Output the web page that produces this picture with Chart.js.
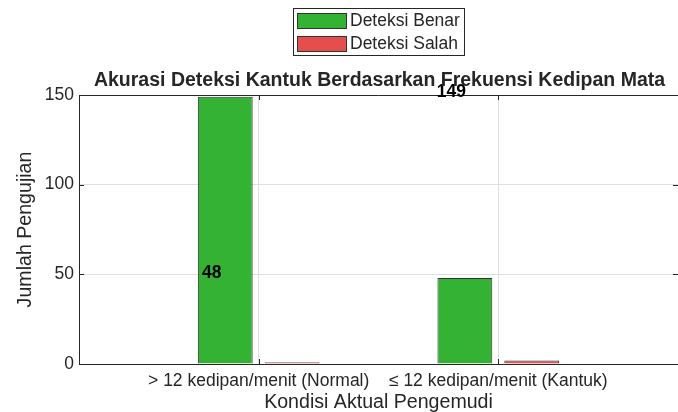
<!DOCTYPE html>
<html><head><meta charset="utf-8">
<script src="https://cdn.jsdelivr.net/npm/chart.js@4"></script>
<style>html,body{margin:0;padding:0;background:#fff}#wrap{width:678px;height:412px}</style>
</head><body><div id="wrap"><canvas id="c" width="678" height="412"></canvas></div>
<script>
const categories = ['> 12 kedipan/menit (Normal)', '\u2264 12 kedipan/menit (Kantuk)'];
const seriesNames = ['Deteksi Benar', 'Deteksi Salah'];
const benarValues = [149, 48];
const salahValues = [1, 2];
const yTickValues = [0, 50, 100, 150];
// value labels as printed in the picture (they appear swapped between groups)
const labelTexts = [48, 149];
const chartTitle = 'Akurasi Deteksi Kantuk Berdasarkan Frekuensi Kedipan Mata';
const xTitle = 'Kondisi Aktual Pengemudi';
const yTitle = 'Jumlah Pengujian';

const FONT = '"Liberation Sans", Arial, Helvetica, sans-serif';
const DARK = '#262626';
const GREEN = 'rgb(51,178,51)';
const RED = 'rgb(230,77,77)';
Chart.defaults.font.family = FONT;

const labelOffsetX = -0.196, labelOffsetY = 2.7;

const matlabPlugin = {
  id: 'matlab',
  afterDatasetsDraw(chart) {
    const {ctx, chartArea: a, scales: {x, y}} = chart;
    ctx.save();
    ctx.strokeStyle = DARK; ctx.lineWidth = 1;
    // top box line
    ctx.beginPath(); ctx.moveTo(a.left, a.top + 0.5); ctx.lineTo(a.right, a.top + 0.5); ctx.stroke();
    // inward ticks
    const tl = 5;
    [1, 2].forEach(v => {
      const px = Math.round(x.getPixelForValue(v)) + 0.5;
      ctx.beginPath(); ctx.moveTo(px, a.bottom); ctx.lineTo(px, a.bottom - tl);
      ctx.moveTo(px, a.top); ctx.lineTo(px, a.top + tl); ctx.stroke();
    });
    yTickValues.forEach(v => {
      const py = Math.round(y.getPixelForValue(v)) + 0.5;
      ctx.beginPath(); ctx.moveTo(a.left, py); ctx.lineTo(a.left + tl, py);
      ctx.moveTo(a.right, py); ctx.lineTo(a.right - tl, py); ctx.stroke();
    });
    // value labels
    ctx.fillStyle = '#000';
    ctx.font = 'bold 17.5px ' + FONT;
    ctx.textAlign = 'center'; ctx.textBaseline = 'middle';
    labelTexts.forEach((t, i) => {
      ctx.fillText(String(t), x.getPixelForValue(i + 1 + labelOffsetX), y.getPixelForValue(t + labelOffsetY));
    });
    // title
    ctx.fillStyle = DARK;
    ctx.font = 'bold 19.5px ' + FONT;
    ctx.fillText(chartTitle, (a.left + a.right) / 2 + 1, 81);
    // legend
    ctx.fillStyle = '#fff';
    ctx.fillRect(293.5, 8.5, 171, 47);
    ctx.strokeStyle = DARK;
    ctx.strokeRect(293.5, 8.5, 171, 47);
    const cols = [GREEN, RED];
    seriesNames.forEach((n, i) => {
      const ry = 13.5 + i * 23;
      ctx.fillStyle = cols[i];
      ctx.fillRect(297.5, ry, 49, 15);
      ctx.strokeStyle = '#333';
      ctx.strokeRect(297.5, ry, 49, 15);
      ctx.fillStyle = DARK;
      ctx.font = '17.5px ' + FONT;
      ctx.textAlign = 'left'; ctx.textBaseline = 'middle';
      ctx.fillText(n, 350, ry + 7.5);
    });
    ctx.restore();
  }
};

new Chart(document.getElementById('c'), {
  type: 'bar',
  data: {
    datasets: [
      { label: seriesNames[0], data: benarValues.map((v, i) => ({x: i + 1, y: v})),
        backgroundColor: GREEN, borderColor: '#333', borderWidth: 1 },
      { label: seriesNames[1], data: salahValues.map((v, i) => ({x: i + 1, y: v})),
        backgroundColor: RED, borderColor: '#333', borderWidth: 1 }
    ]
  },
  options: {
    responsive: false, animation: false, devicePixelRatio: 1,
    categoryPercentage: 0.558, barPercentage: 0.82,
    layout: {padding: {top: 95, right: 0, left: 0, bottom: 0}},
    plugins: {legend: {display: false}, title: {display: false}, tooltip: {enabled: false}},
    scales: {
      x: {
        type: 'linear', min: 0.25, max: 2.75, offset: false,
        afterBuildTicks: s => { s.ticks = [{value: 1}, {value: 2}]; },
        afterFit: s => { s.height = 48; },
        ticks: {callback: v => categories[v - 1], font: {size: 17.5}, color: DARK, padding: 7,
                maxRotation: 0, autoSkip: false},
        grid: {color: '#dfdfdf', drawTicks: false, offset: false},
        border: {color: DARK, width: 1},
        title: {display: true, text: xTitle, font: {size: 19.6, lineHeight: 1}, color: DARK, padding: 0}
      },
      y: {
        min: 0, max: 150,
        afterBuildTicks: s => { s.ticks = yTickValues.map(v => ({value: v})); },
        afterFit: s => { s.width = 79; },
        ticks: {font: {size: 17.5}, color: DARK, padding: 5},
        grid: {color: '#dfdfdf', drawTicks: false},
        border: {color: DARK, width: 1},
        title: {display: true, text: yTitle, font: {size: 19.6, lineHeight: 1}, color: DARK, padding: {top: 16, bottom: 0}}
      }
    }
  },
  plugins: [matlabPlugin]
});
</script></body></html>
